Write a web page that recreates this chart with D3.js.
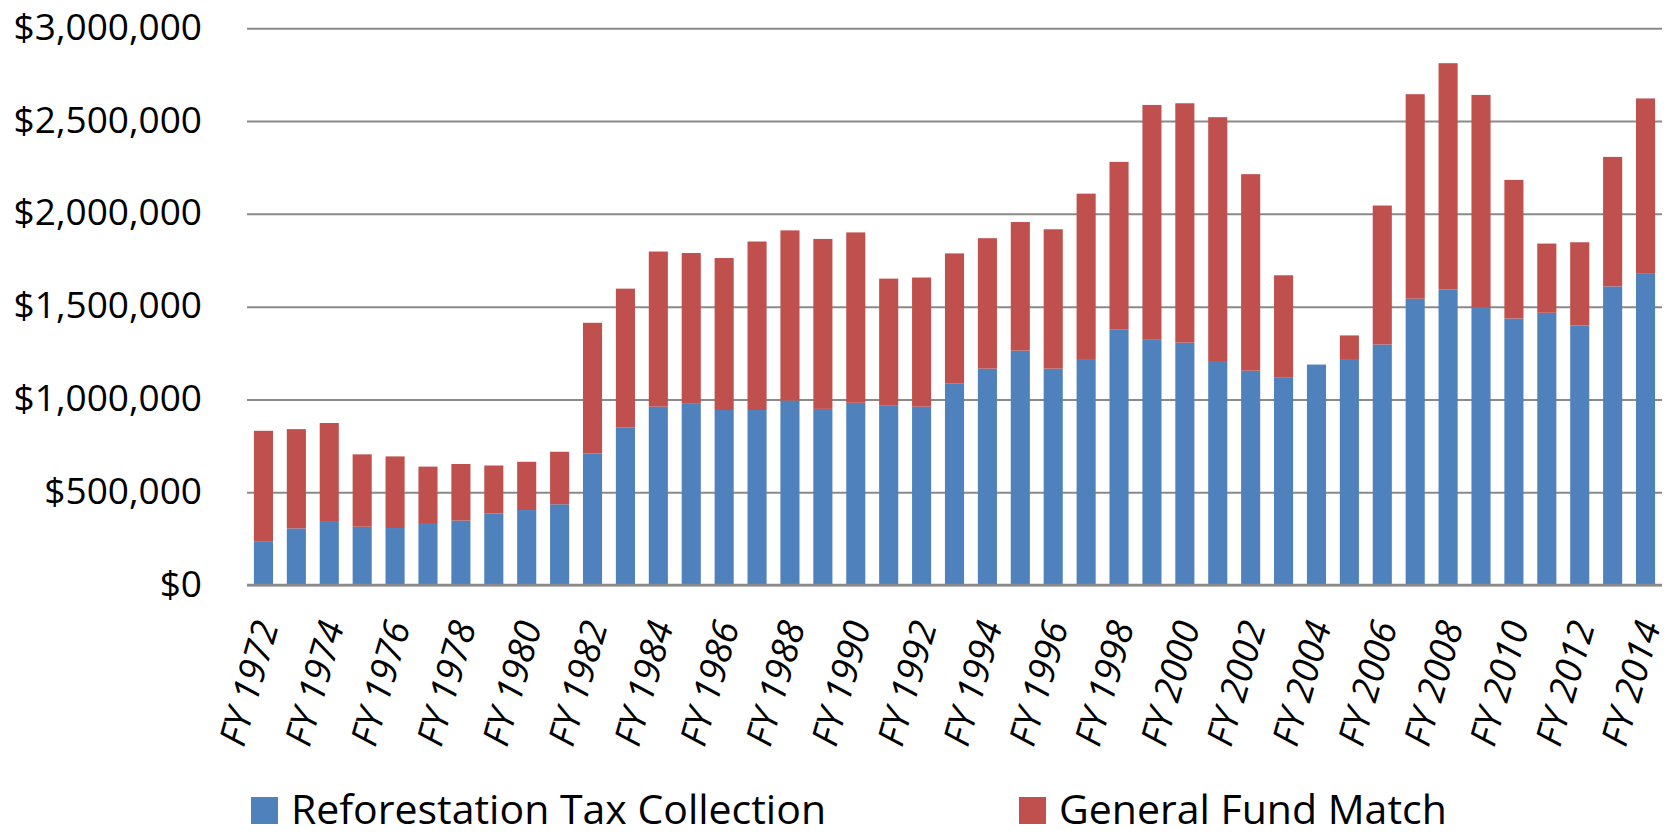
<!DOCTYPE html>
<html>
<head>
<meta charset="utf-8">
<script src="https://cdn.jsdelivr.net/npm/d3@7"></script>
<style>
  html, body { margin: 0; padding: 0; background: #fff; }
  svg { display: block; }
  text { font-family: "Open Sans", "Noto Sans", sans-serif; fill: #000; }
</style>
</head>
<body>
<svg id="chart" width="1673" height="836"></svg>
<script>
const years = ["FY 1972","FY 1973","FY 1974","FY 1975","FY 1976","FY 1977","FY 1978","FY 1979","FY 1980","FY 1981",
  "FY 1982","FY 1983","FY 1984","FY 1985","FY 1986","FY 1987","FY 1988","FY 1989","FY 1990","FY 1991",
  "FY 1992","FY 1993","FY 1994","FY 1995","FY 1996","FY 1997","FY 1998","FY 1999","FY 2000","FY 2001",
  "FY 2002","FY 2003","FY 2004","FY 2005","FY 2006","FY 2007","FY 2008","FY 2009","FY 2010","FY 2011",
  "FY 2012","FY 2013","FY 2014"];
const taxCollection = [233000,305000,340000,314000,307000,334000,347000,386000,404000,435000,
  708000,848000,961000,980000,943000,943000,994000,949000,982000,966000,
  961000,1087000,1166000,1263000,1166000,1213000,1378000,1325000,1306000,1207000,
  1155000,1120000,1188000,1213000,1296000,1543000,1593000,1496000,1436000,1467000,
  1399000,1609000,1677000];
const generalFund = [598000,535000,533000,390000,386000,304000,305000,258000,260000,283000,
  705000,749000,836000,809000,819000,908000,917000,916000,918000,685000,
  696000,700000,703000,693000,751000,896000,902000,1262000,1290000,1314000,
  1059000,549000,0,132000,749000,1102000,1219000,1145000,747000,373000,
  448000,698000,945000];
const yTicks = [0,500000,1000000,1500000,2000000,2500000,3000000];
const xTickLabels = years.filter((d,i) => i % 2 === 0);
const seriesNames = ["Reforestation Tax Collection","General Fund Match"];
const colors = ["#4F81BD","#C0504D"];

const svg = d3.select("#chart");
const plotLeft = 247, plotRight = 1662, plotTop = 28.3, plotBottom = 585;

const x = d3.scaleBand().domain(years).range([plotLeft, plotRight]).paddingInner(0.42).paddingOuter(0.21);
const y = d3.scaleLinear().domain([0, 3000000]).range([plotBottom, plotTop]);

const rows = years.map((yr, i) => ({year: yr, tax: taxCollection[i], fund: generalFund[i]}));
const layers = d3.stack().keys(["tax","fund"])(rows);

// gridlines + y labels
const yAxis = d3.axisLeft(y).tickValues(yTicks).tickSize(-(plotRight-plotLeft)).tickFormat(d => "$" + d3.format(",")(d));
const gy = svg.append("g").attr("transform", `translate(${plotLeft},0)`).call(yAxis);
gy.select(".domain").remove();
gy.selectAll(".tick line").attr("stroke", "#8a8a8a").attr("stroke-width", 2);
gy.selectAll(".tick text")
  .attr("x", -45).attr("dy", "0.3em")
  .attr("font-size", 37).attr("font-family", "Open Sans").attr("fill", "#000");

// bars
svg.append("g").selectAll("g").data(layers).join("g")
  .attr("fill", (d,i) => colors[i])
  .selectAll("rect").data(d => d).join("rect")
  .attr("x", d => x(d.data.year))
  .attr("width", x.bandwidth())
  .attr("y", d => y(d[1]))
  .attr("height", d => Math.max(0, y(d[0]) - y(d[1])));

// bottom axis line
svg.append("line").attr("x1", plotLeft).attr("x2", plotRight).attr("y1", y(0)).attr("y2", y(0))
  .attr("stroke", "#8a8a8a").attr("stroke-width", 2.5);

// x labels
const xAxis = d3.axisBottom(x).tickValues(xTickLabels).tickSize(0);
const gx = svg.append("g").attr("transform", `translate(0,${plotBottom})`).call(xAxis);
gx.select(".domain").remove();
gx.selectAll(".tick text")
  .attr("font-size", 37).attr("font-style", "italic").attr("font-family", "Open Sans").attr("fill", "#000")
  .attr("text-anchor", "end")
  .attr("x", 0).attr("y", 0).attr("dy", "0.35em")
  .attr("transform", "translate(3,37) rotate(-74)");

// legend
const legendX = [251, 1019];
const lg = svg.append("g").selectAll("g").data(seriesNames).join("g")
  .attr("transform", (d,i) => `translate(${legendX[i]},797)`);
lg.append("rect").attr("width", 27).attr("height", 27).attr("fill", (d,i) => colors[i]);
lg.append("text").attr("x", 40).attr("y", 27).attr("font-size", 41).text(d => d);
</script>
</body>
</html>
